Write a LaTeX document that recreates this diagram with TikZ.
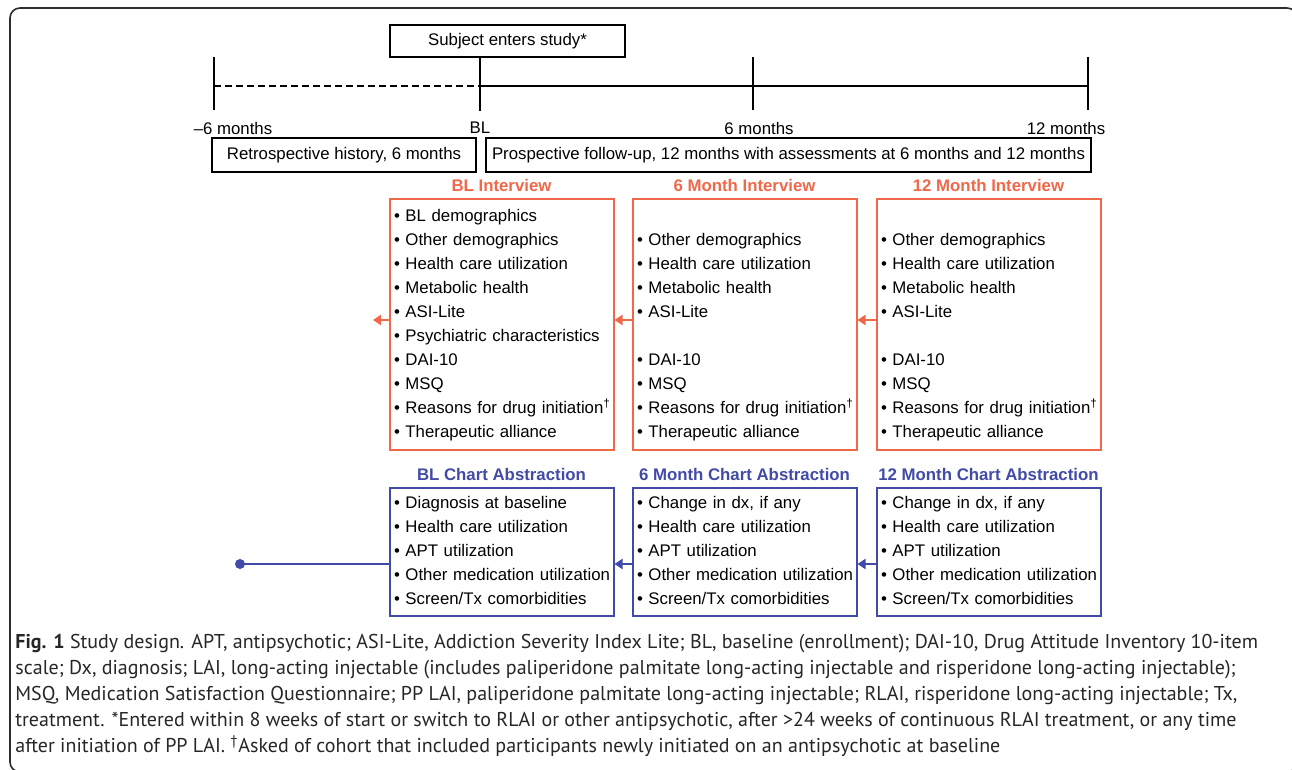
\documentclass[tikz,border=0pt]{standalone}
\usepackage{fontspec}
\setmainfont{Liberation Sans}
\newfontfamily\captionfont{PT Sans}
\usetikzlibrary{positioning,arrows.meta}

\definecolor{intcolor}{RGB}{240,104,74}
\definecolor{chartcolor}{RGB}{66,74,168}
\definecolor{framecolor}{RGB}{45,45,45}

\newcommand{\itm}[1]{\strut\mbox{\textbullet\ #1}}
\newcommand{\blank}{\strut}
\hfuzz=20pt

\begin{document}
\begin{tikzpicture}[line join=miter, x=0.5pt, y=-0.5pt,
		every node/.style={font=\fontsize{8.4}{12}\selectfont, inner sep=0pt},
		plainbox/.style={draw=black, line width=0.9pt, minimum height=16pt},
		intbox/.style={draw=intcolor, line width=1pt, text width=107.5pt, inner xsep=2.25pt, align=left, minimum height=125.5pt},
		chartbox/.style={draw=chartcolor, line width=1pt, text width=107.5pt, inner xsep=2.25pt, align=left, minimum height=64pt},
		inthead/.style={text=intcolor, font=\fontsize{8.4}{12}\selectfont\bfseries},
		charthead/.style={text=chartcolor, font=\fontsize{8.4}{12}\selectfont\bfseries},
		intarrow/.style={draw=intcolor, line width=1pt, -{Triangle[length=4pt, width=5pt]}},
		chartarrow/.style={draw=chartcolor, line width=1pt, -{Triangle[length=4pt, width=5pt]}}]
		
		% Ventana de dibujo
		\useasboundingbox (0,0) rectangle (1292,770);
		
		% Marco redondeado de la figura
		\begin{scope}
			\clip (0,0) rectangle (1292,770);
			\draw[framecolor, line width=0.8pt, rounded corners=5pt] (10,8) rectangle (1297,772);
		\end{scope}
		
		% Línea de tiempo
		\coordinate (tA) at (214,86);
		\coordinate (tB) at (480,86);
		\coordinate (tC) at (753,86);
		\coordinate (tD) at (1088,86);
		\draw[line width=1pt, dash pattern=on 3.3pt off 2.2pt] (tA) -- (tB);
		\draw[line width=1pt] (tB) -- (tD);
		\foreach \t in {tA,tC,tD}
		\draw[line width=1pt] (\t) ++(0,-29) -- ++(0,53);
		
		\node[plainbox, minimum width=117.5pt] (enter) at (507.5,41) {Subject enters study*};
		\draw[line width=1pt] (enter.south -| tB) -- ++(0,53);
		
		% Etiquetas de la línea de tiempo
		\node (lbA) at (233,128) {–6 months};
		\node (lbB) at (480,128) {BL};
		\node (lbC) at (759,128) {6 months};
		\node (lbD) at (1066,128) {12 months};
		
		% Periodos retrospectivo y prospectivo
		\node[plainbox, minimum width=132pt, minimum height=17pt] (retro) at (344,155) {Retrospective history, 6 months};
		\node[plainbox, minimum width=302.5pt, minimum height=17pt] (prosp) at (788.5,155) {Prospective follow-up, 12 months with assessments at 6 months and 12 months};
		
		% Entrevistas (naranja)
		\node[intbox] (intBL) at (501.5,324.5) {\itm{BL demographics}\\ \itm{Other demographics}\\ \itm{Health care utilization}\\ \itm{Metabolic health}\\ \itm{ASI-Lite}\\ \itm{Psychiatric characteristics}\\ \itm{DAI-10}\\ \itm{MSQ}\\ \itm{Reasons for drug initiation\textsuperscript{†}}\\ \itm{Therapeutic alliance}};
		\node[intbox, right=8.5pt of intBL] (int6) {\blank\\ \itm{Other demographics}\\ \itm{Health care utilization}\\ \itm{Metabolic health}\\ \itm{ASI-Lite}\\ \blank\\ \itm{DAI-10}\\ \itm{MSQ}\\ \itm{Reasons for drug initiation\textsuperscript{†}}\\ \itm{Therapeutic alliance}};
		\node[intbox, right=9pt of int6] (int12) {\blank\\ \itm{Other demographics}\\ \itm{Health care utilization}\\ \itm{Metabolic health}\\ \itm{ASI-Lite}\\ \blank\\ \itm{DAI-10}\\ \itm{MSQ}\\ \itm{Reasons for drug initiation\textsuperscript{†}}\\ \itm{Therapeutic alliance}};
		
		\node[inthead, above=3pt of intBL] (hIntBL) {BL Interview};
		\node[inthead, above=3pt of int6] (hInt6) {6 Month Interview};
		\node[inthead, above=3pt of int12] (hInt12) {12 Month Interview};
		
		% Revisión de historias clínicas (azul)
		\node[chartbox, below=18pt of intBL] (chBL) {\itm{Diagnosis at baseline}\\ \itm{Health care utilization}\\ \itm{APT utilization}\\ \itm{Other medication utilization}\\ \itm{Screen/Tx comorbidities}};
		\node[chartbox, below=18pt of int6] (ch6) {\itm{Change in dx, if any}\\ \itm{Health care utilization}\\ \itm{APT utilization}\\ \itm{Other medication utilization}\\ \itm{Screen/Tx comorbidities}};
		\node[chartbox, below=18pt of int12] (ch12) {\itm{Change in dx, if any}\\ \itm{Health care utilization}\\ \itm{APT utilization}\\ \itm{Other medication utilization}\\ \itm{Screen/Tx comorbidities}};
		
		\node[charthead, above=3pt of chBL] (hChBL) {BL Chart Abstraction};
		\node[charthead, above=3pt of ch6] (hCh6) {6 Month Chart Abstraction};
		\node[charthead, above=3pt of ch12] (hCh12) {12 Month Chart Abstraction};
		
		% Flechas entre entrevistas
		\coordinate (arI) at (0,320);
		\coordinate (endI) at (373,320);
		\draw[intarrow] (intBL.west |- arI) -- (endI);
		\draw[intarrow] (int6.west |- arI) -- (intBL.east |- arI);
		\draw[intarrow] (int12.west |- arI) -- (int6.east |- arI);
		
		% Flechas entre revisiones
		\coordinate (arC) at (0,564);
		\coordinate (dotC) at (240,564);
		\draw[chartcolor, line width=1pt] (chBL.west |- arC) -- (dotC);
		\fill[chartcolor] (dotC) circle (2.5pt);
		\draw[chartarrow] (ch6.west |- arC) -- (chBL.east |- arC);
		\draw[chartarrow] (ch12.west |- arC) -- (ch6.east |- arC);
		
		% Pie de figura
		\node[anchor=north west, align=left, text=black!85, font=\captionfont\fontsize{10}{13}\selectfont] (caption) at (15,634) {\textbf{Fig. 1} Study design. APT, antipsychotic; ASI-Lite, Addiction Severity Index Lite; BL, baseline (enrollment); DAI-10, Drug Attitude Inventory 10-item\\ scale; Dx, diagnosis; LAI, long-acting injectable (includes paliperidone palmitate long-acting injectable and risperidone long-acting injectable);\\ MSQ, Medication Satisfaction Questionnaire; PP LAI, paliperidone palmitate long-acting injectable; RLAI, risperidone long-acting injectable; Tx,\\ treatment. *Entered within 8 weeks of start or switch to RLAI or other antipsychotic, after >24 weeks of continuous RLAI treatment, or any time\\ after initiation of PP LAI. \textsuperscript{†}Asked of cohort that included participants newly initiated on an antipsychotic at baseline};
		
	\end{tikzpicture}
\end{document}
